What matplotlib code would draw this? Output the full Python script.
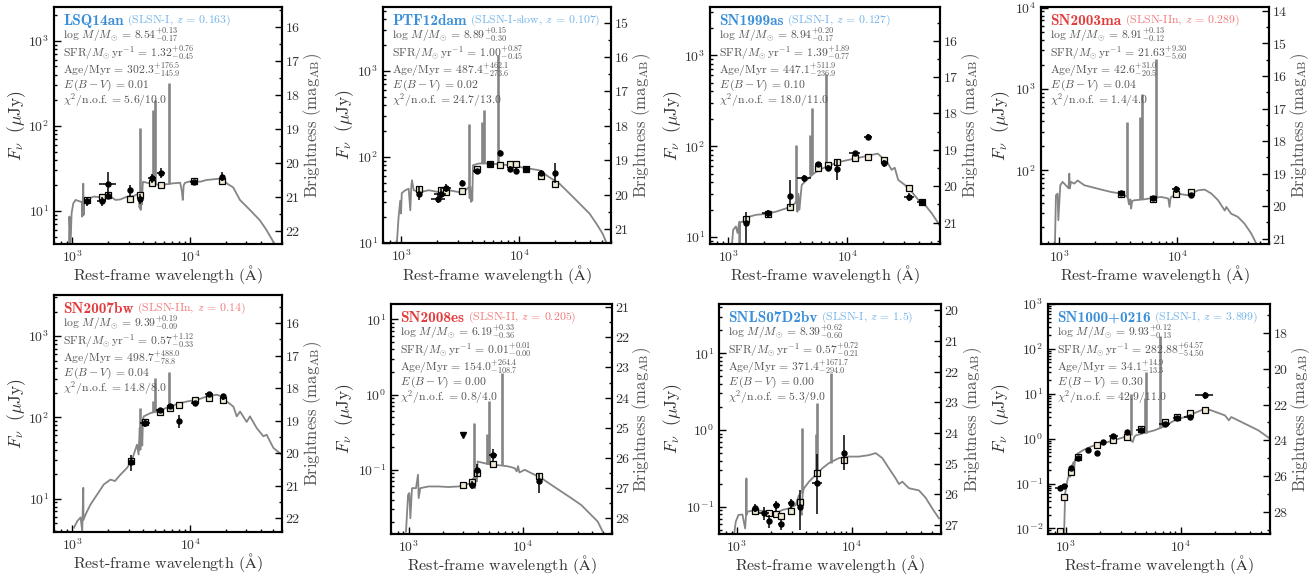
import numpy as np
import matplotlib
matplotlib.use("Agg")
import matplotlib.pyplot as plt
from matplotlib.ticker import MultipleLocator, LogLocator, NullFormatter

plt.rcParams.update({
    "font.family": "serif",
    "font.serif": ["cmr10", "DejaVu Serif"],
    "mathtext.fontset": "cm",
    "axes.unicode_minus": False,
    "axes.formatter.use_mathtext": True,
})

# ---------------- data ----------------
LINE_WL = [3727, 4861, 5007, 6563]

# Panel 1: LSQ14an
p1_name = "LSQ14an"
p1_info = r"(SLSN-I, $z$ = 0.163)"
p1_stats = ["8.54^{+0.13}_{-0.17}", "1.32^{+0.76}_{-0.45}", "302.3^{+176.5}_{-145.9}", "0.01", "5.6/10.0"]
p1_ylim = [4.1, 2500]
p1_model_wl = [938, 945, 968, 987, 1020, 1067, 1176, 1210, 1215, 1240, 1248, 1255, 1300, 1340, 1525, 1736, 2110, 2325, 2560,
               2915, 3320, 3660, 3720, 3760, 3800, 3850, 3900, 3950, 3980, 4300, 4900, 5580, 6350, 7220, 8220, 8500,
               8650, 8800, 9040, 10320, 12130, 13800, 15720, 18480, 20380, 23190, 26400, 30050, 34200, 38900, 44300,
               50400, 53800]
p1_model_f = [4.06, 8.6, 4.2, 9.4, 12.3, 13.5, 12.9, 12.5, 8.6, 21, 9.0, 14.1, 12.5, 13.8, 14.8, 14.5, 14.8, 13.5, 13.7,
              14.8, 15.0, 16.1, 11, 15, 10.3, 18, 12, 20, 22.1, 21.5, 20.7, 20.2, 20.7, 21.2, 21.5, 17,
              13.5, 20, 21.5, 22.6, 22.1, 23.2, 23.6, 24.2, 21.2, 18.9, 13.5, 11.3, 9.4, 7.8, 6.0,
              4.4, 3.8]
p1_line_base = [15, 20.7, 20.7, 20.7]
p1_line_peak = [94, 155, 202, 318]
p1_obs_wl = [1340, 1770, 2000, 1990, 3070, 3736, 4775, 5690, 10670, 18600]
p1_obs_f = [13.1, 13.1, 21.0, 15.2, 17.5, 14.0, 24.2, 28.2, 21.7, 25.4]
p1_obs_lo = [1.5, 1.5, 6.0, 1.5, 2.5, 2.0, 3.0, 4.0, 1.5, 3.0]
p1_obs_hi = [1.5, 1.5, 8.0, 1.5, 2.5, 2.0, 3.0, 4.0, 1.5, 3.0]
p1_obs_wlerr = [0, 150, 330, 60, 60, 60, 370, 450, 700, 0]
p1_mod_wl = [1340, 1770, 1990, 3070, 3736, 4775, 5690, 10670, 18600]
p1_mod_f = [13.5, 14.7, 15.3, 14.0, 15.3, 21.1, 20.2, 22.8, 22.8]

# Panel 2: PTF12dam
p2_name = "PTF12dam"
p2_info = r"(SLSN-I-slow, $z$ = 0.107)"
p2_stats = ["8.89^{+0.15}_{-0.30}", "1.00^{+0.87}_{-0.45}", "487.4^{+462.1}_{-273.6}", "0.02", "24.7/13.0"]
p2_ylim = [10, 5500]
p2_model_wl = [918, 949, 980, 995, 1010, 1082, 1155, 1193, 1215, 1233, 1274, 1452, 1710, 2080, 2530, 3080, 3510,
               3740, 3800, 3850, 3900, 3950, 4000, 4055, 4560, 5550, 6750, 8210, 10000, 12170, 14800, 18000,
               21900, 26700, 32500, 39500, 45100, 51000, 55000]
p2_model_f = [10, 20, 31, 22, 38, 41, 42.7, 24, 45, 53.6, 41, 39, 41, 39, 41, 39, 41,
              44.8, 33, 45, 30, 40, 31, 80, 83.8, 83.8, 82, 80, 76.5, 73, 70, 58,
              49, 37.5, 28.7, 21.9, 16.8, 12.8, 10]
p2_line_base = [44, 84, 84, 82]
p2_line_peak = [244, 255, 349, 1510]
p2_obs_wl = [1415, 2066, 2163, 2388, 3245, 4385, 5700, 6935, 8280, 9420, 11470, 15390, 20000]
p2_obs_f = [37.5, 32.8, 37.5, 43.6, 49.9, 68.1, 82.3, 112, 73.1, 68.7, 73.1, 65.8, 65.2]
p2_obs_lo = [6, 4, 4, 5, 4, 5, 4, 8, 6, 6, 4, 5, 16]
p2_obs_hi = [7, 5, 5, 5, 4, 5, 4, 8, 6, 6, 4, 5, 20]
p2_obs_wlerr = [0, 270, 250, 250, 0, 350, 350, 250, 0, 0, 600, 900, 0]
p2_mod_wl = [1415, 2163, 2388, 3245, 4385, 5700, 6935, 8280, 9420, 11470, 15390, 20000]
p2_mod_f = [42.1, 41, 39.2, 39.8, 73, 82, 80, 82, 82, 73, 60, 49]

# Panel 3: SN1999as
p3_name = "SN1999as"
p3_info = r"(SLSN-I, $z$ = 0.127)"
p3_stats = ["8.94^{+0.20}_{-0.17}", "1.39^{+1.89}_{-0.77}", "447.1^{+511.9}_{-236.9}", "0.10", "18.0/11.0"]
p3_ylim = [8.4, 3400]
p3_model_wl = [1067, 1096, 1155, 1193, 1233, 1240, 1250, 1316, 1500, 1710, 2080, 2530, 3080, 3510, 3740, 3800,
               3870, 3950, 4130, 4560, 5200, 5910, 7190, 8750, 10660, 12980, 15800, 18000, 19200, 21900, 23500,
               25000, 26700, 30400, 34600, 39500, 44900, 51100, 62000]
p3_model_f = [7.9, 12, 13.1, 11.1, 14.8, 7.9, 14.5, 14.8, 16.8, 17.6, 18.0, 19.1, 20.8, 22.6, 24.7, 19,
              30, 20, 37.5, 42.6, 50, 55.6, 62, 67.6, 71.6, 75.5, 80, 83, 76.7, 64.9, 55,
              58, 42.6, 37.5, 31.7, 25.6, 22.6, 18.3, 12.5]
p3_line_base = [24, 48, 50, 60]
p3_line_peak = [103, 132, 260, 630]
p3_obs_wl = [1405, 2136, 3290, 4327, 5700, 6840, 8220, 11540, 15000, 20270, 32900, 42200]
p3_obs_f = [14.3, 18.2, 28.4, 44.4, 63.2, 58, 56, 83.4, 127, 64.9, 27.9, 24.2]
p3_obs_lo = [6.4, 1.5, 6.7, 4, 4, 4, 13, 6, 10, 6, 3, 2]
p3_obs_hi = [4.7, 1.5, 14, 4, 4, 4, 14, 6, 10, 6, 3, 2]
p3_obs_wlerr = [0, 210, 0, 570, 370, 300, 0, 1150, 1180, 0, 3200, 4000]
p3_mod_wl = [1405, 2136, 3290, 5700, 6840, 8220, 11540, 15000, 20270, 32900, 42200]
p3_mod_f = [15.7, 18, 21.3, 57, 62, 67.6, 74.8, 76.7, 70.5, 35.1, 24.2]

# Panel 4: SN2003ma
p4_name = "SN2003ma"
p4_info = r"(SLSN-IIn, $z$ = 0.289)"
p4_stats = ["8.91^{+0.13}_{-0.12}", "21.63^{+9.30}_{-5.60}", "42.6^{+31.0}_{-20.5}", "0.04", "1.4/4.0"]
p4_ylim = [12.4, 10200]
p4_model_wl = [919, 937, 968, 982, 1020, 1067, 1103, 1200, 1216, 1230, 1256, 1342, 1431, 1630, 1858, 2117, 2412,
               2748, 3343, 3806, 3900, 4000, 4065, 4150, 4338, 5277, 6210, 7300, 8400, 8600, 8750, 8890, 10120,
               12300, 14990, 17090, 19480, 22200, 25300, 26100, 28600, 32600, 37200, 42400, 46900]
p4_model_f = [12.5, 49.3, 51.7, 24.3, 65.5, 71.9, 68.6, 60, 91, 60, 72, 68.6, 75, 65.5, 62.4, 59.4, 56.7,
              54.1, 51.7, 47, 38, 44, 33.8, 42, 42.8, 44, 45.7, 47, 45, 35.4, 44, 47, 51.7,
              49.3, 56.7, 57.9, 51.7, 42.8, 32, 35.4, 29.3, 26.8, 22.1, 16.7, 12.5]
p4_line_base = [47, 44, 44, 46]
p4_line_peak = [393, 453, 877, 2360]
p4_obs_wl = [3343, 6210, 9810, 13150]
p4_obs_f = [52.6, 45.7, 58.4, 49.3]
p4_obs_lo = [3, 3, 6, 4]
p4_obs_hi = [3, 3, 6, 4]
p4_obs_wlerr = [150, 250, 800, 800]
p4_mod_wl = [3343, 6210, 9810, 13150]
p4_mod_f = [51.7, 44.3, 51.7, 53.6]

# Panel 5: SN2007bw
p5_name = "SN2007bw"
p5_info = r"(SLSN-IIn, $z$ = 0.14)"
p5_stats = ["9.39^{+0.19}_{-0.09}", "0.57^{+1.12}_{-0.33}", "498.7^{+488.0}_{-78.8}", "0.04", "14.8/8.0"]
p5_ylim = [3.9, 3200]
p5_model_wl = [1033, 1102, 1176, 1215, 1240, 1245, 1296, 1428, 1627, 1852, 2108, 2300, 2562, 2916, 3214, 3540,
               3650, 3732, 3780, 3850, 3920, 3980, 4033, 4587, 5218, 5940, 6760, 7700, 9360, 11380, 13830, 16810,
               18520, 20400, 23220, 24800, 26460, 30100, 32100, 36600, 41700, 44400, 50700, 59400]
p5_model_f = [4.4, 5.3, 5.9, 4.0, 13.6, 5.5, 6.4, 8.5, 11.3, 15, 17.2, 16.5, 19.8, 24.0, 30.3, 46.3,
              35, 74, 40, 90, 45, 95, 102.9, 113, 118, 127, 136, 146, 157, 164, 181, 190,
              181, 157, 136, 103, 118, 88, 103, 74, 58.6, 61.3, 42.2, 34.9]
p5_line_base = [74, 116, 118, 136]
p5_line_peak = [130, 160, 303, 366]
p5_obs_wl = [3170, 4170, 5510, 6680, 7960, 11020, 14550, 19140]
p5_obs_f = [28.1, 85.3, 124, 140, 91, 150, 193, 181]
p5_obs_lo = [6.3, 8, 8, 8, 17, 8, 10, 15]
p5_obs_hi = [6.8, 8, 8, 8, 17, 8, 10, 15]
p5_obs_wlerr = [100, 400, 350, 300, 0, 900, 1100, 0]
p5_mod_wl = [3170, 4170, 5510, 6680, 7960, 11020, 14550, 19140]
p5_mod_f = [28.9, 89, 116, 130, 143, 164, 173, 164]

# Panel 6: SN2008es
p6_name = "SN2008es"
p6_info = r"(SLSN-II, $z$ = 0.205)"
p6_stats = ["6.19^{+0.33}_{-0.36}", "0.01^{+0.01}_{-0.00}", "154.0^{+264.4}_{-108.7}", "0.00", "0.8/4.0"]
p6_ylim = [0.014, 16]
p6_model_wl = [947, 987, 1013, 1034, 1069, 1158, 1206, 1222, 1263, 1492, 1823, 2228, 2722, 3111, 3437, 3676,
               3750, 3800, 3870, 3940, 4005, 4340, 4960, 5660, 6470, 7400, 8460, 8800, 9040, 9300, 10330, 11810,
               14460, 17680, 21620, 26400, 32300, 39400, 45000, 49700]
p6_model_f = [0.0151, 0.0464, 0.049, 0.0227, 0.057, 0.057, 0.086, 0.042, 0.057, 0.060, 0.060, 0.059, 0.060, 0.063,
              0.066, 0.0774, 0.06, 0.057, 0.1, 0.07, 0.129, 0.125, 0.119, 0.116, 0.114, 0.111, 0.105, 0.095,
              0.112, 0.092, 0.1, 0.0903, 0.0774, 0.063, 0.0514, 0.042, 0.034, 0.0251, 0.0205, 0.0151]
p6_line_base = [0.07, 0.119, 0.119, 0.114]
p6_line_peak = [0.419, 0.3, 0.815, 1.94]
p6_obs_wl = [3606, 3926, 5480, 13770]
p6_obs_f = [0.0631, 0.1, 0.158, 0.0699]
p6_obs_lo = [0.008, 0.02, 0.03, 0.021]
p6_obs_hi = [0.008, 0.02, 0.03, 0.02]
p6_obs_wlerr = [150, 100, 450, 300]
p6_lim_wl = [2966]
p6_lim_f = [0.293]
p6_mod_wl = [2966, 3606, 3926, 5480, 13770]
p6_mod_f = [0.0618, 0.0686, 0.092, 0.119, 0.0815]

# Panel 7: SNLS07D2bv
p7_name = "SNLS07D2bv"
p7_info = r"(SLSN-I, $z$ = 1.5)"
p7_stats = ["8.39^{+0.62}_{-0.60}", "0.57^{+0.72}_{-0.21}", "371.4^{+1671.7}_{-294.0}", "0.00", "5.3/9.0"]
p7_ylim = [0.044, 44]
p7_model_wl = [948, 980, 1034, 1120, 1182, 1205, 1213, 1220, 1238, 1463, 1671, 1911, 2184, 2496, 2852, 3259,
               3480, 3600, 3672, 3750, 3847, 4254, 4860, 5553, 6346, 7750, 9472, 11580, 14150, 16200, 18500,
               21140, 24170, 25830, 27620, 31570, 38530, 44040, 50340, 57550]
p7_model_f = [0.044, 0.0637, 0.078, 0.079, 0.052, 0.079, 0.234, 0.079, 0.086, 0.0905, 0.0878, 0.078, 0.0818,
              0.0905, 0.095, 0.105, 0.142, 0.09, 0.078, 0.15, 0.174, 0.212, 0.259, 0.316, 0.37, 0.43, 0.45,
              0.45, 0.47, 0.5, 0.43, 0.316, 0.234, 0.197, 0.212, 0.174, 0.163, 0.131, 0.095, 0.0704]
p7_line_base = [0.15, 0.259, 0.259, 0.37]
p7_line_peak = [1.05, 0.9, 2.23, 5.5]
p7_obs_wl = [1434, 1729, 1897, 2213, 2445, 2985, 3580, 5000, 8570]
p7_obs_f = [0.0961, 0.0827, 0.065, 0.104, 0.0589, 0.1117, 0.099, 0.204, 0.5]
p7_obs_lo = [0.012, 0.015, 0.012, 0.015, 0.01, 0.015, 0.05, 0.123, 0.2]
p7_obs_hi = [0.012, 0.015, 0.012, 0.015, 0.01, 0.015, 0.064, 0.286, 0.35]
p7_obs_wlerr = [0, 170, 80, 150, 150, 180, 0, 500, 0]
p7_mod_wl = [1434, 1897, 2213, 2445, 2985, 3580, 5000, 8570]
p7_mod_f = [0.0869, 0.0827, 0.081, 0.0756, 0.0869, 0.115, 0.275, 0.41]

# Panel 8: SN1000+0216
p8_name = "SN1000+0216"
p8_info = r"(SLSN-I, $z$ = 3.899)"
p8_stats = ["9.93^{+0.12}_{-0.13}", "282.88^{+64.57}_{-54.50}", "34.1^{+14.9}_{-13.3}", "0.30", "42.9/11.0"]
p8_ylim = [0.0075, 1000]
p8_model_wl = [967, 987, 1034, 1070, 1092, 1121, 1170, 1183, 1200, 1265, 1446, 1769, 2164, 2647, 3237, 3582,
               3700, 3830, 3950, 4095, 4840, 5920, 7240, 8870, 10840, 13260, 16220, 18520, 24280, 26300, 27600,
               36300, 47500, 60000]
p8_model_f = [0.0077, 0.06, 0.119, 0.16, 0.141, 0.234, 0.30, 0.2, 0.33, 0.464, 0.57, 0.71, 0.80, 0.92, 1.09,
              1.19, 0.9, 0.84, 1.1, 1.19, 1.34, 1.53, 1.88, 2.56, 3.03, 3.72, 4.64, 4.26, 3.3, 2.56, 3.03,
              2.15, 1.53, 1.0]
p8_line_base = [1.19, 1.34, 1.34, 1.7]
p8_line_peak = [10, 8, 30, 198]
p8_obs_wl = [887, 967, 1121, 1265, 1548, 1855, 2093, 2593, 3435, 4497, 7340, 9350, 11990, 16220]
p8_obs_f = [0.078, 0.0858, 0.219, 0.366, 0.57, 0.48, 0.83, 1.13, 1.38, 1.56, 2.12, 2.88, 3.08, 9.18]
p8_obs_lo = [0.008, 0.008, 0.02, 0.03, 0.04, 0.04, 0.06, 0.08, 0.1, 0.12, 0.15, 0.2, 0.25, 1.5]
p8_obs_hi = [0.008, 0.008, 0.02, 0.03, 0.04, 0.04, 0.06, 0.08, 0.1, 0.12, 0.15, 0.2, 0.25, 1.8]
p8_obs_wlerr = [80, 70, 40, 0, 60, 0, 0, 230, 0, 400, 800, 750, 1200, 2900]
p8_mod_wl = [887, 967, 1121, 1265, 1855, 2593, 3435, 4497, 7340, 9350, 11990, 16220]
p8_mod_f = [0.0086, 0.0497, 0.179, 0.398, 0.736, 0.93, 1.11, 1.68, 2.39, 3.0, 3.66, 4.41]

# ---------------- styling / layout ----------------
BLUE, LBLUE = "#3a8fd8", "#74b4ea"
RED, LRED = "#e23c3c", "#f07a7a"
MODEL_C = "#858585"
STAT_C = "#555555"
SQ_FC = "#efe9d6"
XLIM = (700, 60000)

panels = [
    dict(name=p1_name, info=p1_info, stats=p1_stats, ylim=p1_ylim, mwl=p1_model_wl, mf=p1_model_f,
         lb=p1_line_base, lp=p1_line_peak, owl=p1_obs_wl, of=p1_obs_f, olo=p1_obs_lo, ohi=p1_obs_hi,
         owe=p1_obs_wlerr, swl=p1_mod_wl, sf=p1_mod_f, c=(BLUE, LBLUE), step=1,
         rect=(54, 7, 282, 244), lx=17, rx=313),
    dict(name=p2_name, info=p2_info, stats=p2_stats, ylim=p2_ylim, mwl=p2_model_wl, mf=p2_model_f,
         lb=p2_line_base, lp=p2_line_peak, owl=p2_obs_wl, of=p2_obs_f, olo=p2_obs_lo, ohi=p2_obs_hi,
         owe=p2_obs_wlerr, swl=p2_mod_wl, sf=p2_mod_f, c=(BLUE, LBLUE), step=1,
         rect=(383, 7, 611, 243), lx=345, rx=642),
    dict(name=p3_name, info=p3_info, stats=p3_stats, ylim=p3_ylim, mwl=p3_model_wl, mf=p3_model_f,
         lb=p3_line_base, lp=p3_line_peak, owl=p3_obs_wl, of=p3_obs_f, olo=p3_obs_lo, ohi=p3_obs_hi,
         owe=p3_obs_wlerr, swl=p3_mod_wl, sf=p3_mod_f, c=(BLUE, LBLUE), step=1,
         rect=(710, 7, 940, 244), lx=673, rx=971),
    dict(name=p4_name, info=p4_info, stats=p4_stats, ylim=p4_ylim, mwl=p4_model_wl, mf=p4_model_f,
         lb=p4_line_base, lp=p4_line_peak, owl=p4_obs_wl, of=p4_obs_f, olo=p4_obs_lo, ohi=p4_obs_hi,
         owe=p4_obs_wlerr, swl=p4_mod_wl, sf=p4_mod_f, c=(RED, LRED), step=1,
         rect=(1041, 7, 1269, 244), lx=1001, rx=1300),
    dict(name=p5_name, info=p5_info, stats=p5_stats, ylim=p5_ylim, mwl=p5_model_wl, mf=p5_model_f,
         lb=p5_line_base, lp=p5_line_peak, owl=p5_obs_wl, of=p5_obs_f, olo=p5_obs_lo, ohi=p5_obs_hi,
         owe=p5_obs_wlerr, swl=p5_mod_wl, sf=p5_mod_f, c=(RED, LRED), step=1,
         rect=(54, 295, 282, 532), lx=17, rx=313),
    dict(name=p6_name, info=p6_info, stats=p6_stats, ylim=p6_ylim, mwl=p6_model_wl, mf=p6_model_f,
         lb=p6_line_base, lp=p6_line_peak, owl=p6_obs_wl, of=p6_obs_f, olo=p6_obs_lo, ohi=p6_obs_hi,
         owe=p6_obs_wlerr, swl=p6_mod_wl, sf=p6_mod_f, c=(RED, LRED), step=1,
         rect=(391, 304, 612, 534), lx=345, rx=642, lim=(p6_lim_wl, p6_lim_f)),
    dict(name=p7_name, info=p7_info, stats=p7_stats, ylim=p7_ylim, mwl=p7_model_wl, mf=p7_model_f,
         lb=p7_line_base, lp=p7_line_peak, owl=p7_obs_wl, of=p7_obs_f, olo=p7_obs_lo, ohi=p7_obs_hi,
         owe=p7_obs_wlerr, swl=p7_mod_wl, sf=p7_mod_f, c=(BLUE, LBLUE), step=1,
         rect=(719, 304, 941, 534), lx=673, rx=973),
    dict(name=p8_name, info=p8_info, stats=p8_stats, ylim=p8_ylim, mwl=p8_model_wl, mf=p8_model_f,
         lb=p8_line_base, lp=p8_line_peak, owl=p8_obs_wl, of=p8_obs_f, olo=p8_obs_lo, ohi=p8_obs_hi,
         owe=p8_obs_wlerr, swl=p8_mod_wl, sf=p8_mod_f, c=(BLUE, LBLUE), step=2,
         rect=(1048, 304, 1270, 534), lx=1001, rx=1301),
]

W, H = 1314, 576
PT = 0.72  # points per pixel at dpi 100
fig = plt.figure(figsize=(W / 100, H / 100), dpi=100)

stat_fmt = [r"log $M/M_{\odot}$ = $%s$", r"SFR/$M_{\odot}\,$yr$^{-1}$ = $%s$",
            r"Age/Myr = $%s$", r"$E\,(B-V)$ = %s", r"$\chi^2$/n.o.f. = %s"]
stat_off = [-20.2, -33.1, -45.4, -56.4, -67.2]

for p in panels:
    l, t, r, b = p["rect"]
    ax = fig.add_axes([l / W, 1 - b / H, (r - l) / W, (b - t) / H])
    ax.set_xscale("log")
    ax.set_yscale("log")
    ax.set_xlim(*XLIM)
    ax.set_ylim(*p["ylim"])

    # model spectrum and emission lines
    ax.plot(p["mwl"], p["mf"], color=MODEL_C, lw=1.3, zorder=2)
    ax.vlines(LINE_WL, p["lb"], p["lp"], color=MODEL_C, lw=1.9, zorder=2)
    # model photometry
    ax.plot(p["swl"], p["sf"], "s", mfc=SQ_FC, mec="k", ms=4.6, mew=0.9, zorder=3, ls="none")
    # observations
    ax.errorbar(p["owl"], p["of"], yerr=[p["olo"], p["ohi"]], xerr=p["owe"], fmt="o", color="k",
                ms=3.6, elinewidth=1.1, capsize=0, zorder=4)
    if "lim" in p:
        ax.errorbar(p["lim"][0], p["lim"][1], xerr=[100], fmt="v", color="k", ms=4.5, elinewidth=1.1,
                    capsize=0, zorder=4)

    for s in ax.spines.values():
        s.set_linewidth(1.5)
    ax.xaxis.set_major_locator(LogLocator(base=10, numticks=10))
    ax.yaxis.set_major_locator(LogLocator(base=10, numticks=20))
    ax.yaxis.set_minor_locator(LogLocator(base=10, subs=np.arange(2, 10), numticks=20))
    ax.xaxis.set_minor_formatter(NullFormatter())
    ax.yaxis.set_minor_formatter(NullFormatter())
    ax.tick_params(which="both", direction="in", top=False, right=False, labelsize=10,
                   labelcolor="#333333", width=1)
    ax.tick_params(which="major", length=5)
    ax.tick_params(which="minor", length=2.5)
    ax.tick_params(axis="x", pad=4)

    ax2 = ax.twinx()
    lo, hi = p["ylim"]
    ax2.set_ylim(23.9 - 2.5 * np.log10(lo), 23.9 - 2.5 * np.log10(hi))
    ax2.yaxis.set_major_locator(MultipleLocator(p["step"]))
    ax2.yaxis.set_minor_locator(MultipleLocator(p["step"] / 2))
    ax2.tick_params(which="both", direction="in", labelsize=10, labelcolor="#333333", width=1, pad=2)
    ax2.tick_params(which="major", length=5)
    ax2.tick_params(which="minor", length=2.5)
    for s in ax2.spines.values():
        s.set_linewidth(1.5)

    # axis labels
    ax.annotate(r"Rest-frame wavelength $(\mathrm{\AA})$", xy=(0.5, 0), xycoords="axes fraction",
                xytext=(0, -31 * PT), textcoords="offset points", ha="center", va="center",
                fontsize=11.5, color="#333333")
    ax.annotate(r"$F_\nu\ \ (\mu\mathrm{Jy})$", xy=(0, 0.5), xycoords="axes fraction",
                xytext=((p["lx"] - l) * PT, 0), textcoords="offset points", ha="center", va="center",
                rotation=90, fontsize=12.5, color="#333333")
    ax.annotate(r"Brightness $(\mathrm{mag}_\mathrm{AB})$", xy=(1, 0.5), xycoords="axes fraction",
                xytext=((p["rx"] - r) * PT, 0), textcoords="offset points", ha="center", va="center",
                rotation=90, fontsize=12, color="#555555")

    # title and stats
    c1, c2 = p["c"]
    t1 = ax.annotate(p["name"], xy=(0, 1), xycoords="axes fraction", xytext=(6.5, -10),
                     textcoords="offset points", ha="left", va="center", fontsize=11,
                     fontfamily="cmb10", color=c1, zorder=6)
    ax.annotate(p["info"], xy=(1, 0), xycoords=t1, xytext=(2.5, 0), textcoords="offset points",
                ha="left", va="bottom", fontsize=8.5, color=c2, zorder=6)
    for off, fmt, val in zip(stat_off, stat_fmt, p["stats"]):
        ax.annotate(fmt % val, xy=(0, 1), xycoords="axes fraction", xytext=(6.5, off),
                    textcoords="offset points", ha="left", va="center", fontsize=8.4, color=STAT_C,
                    zorder=6)

fig.savefig("out.png", dpi=100)
